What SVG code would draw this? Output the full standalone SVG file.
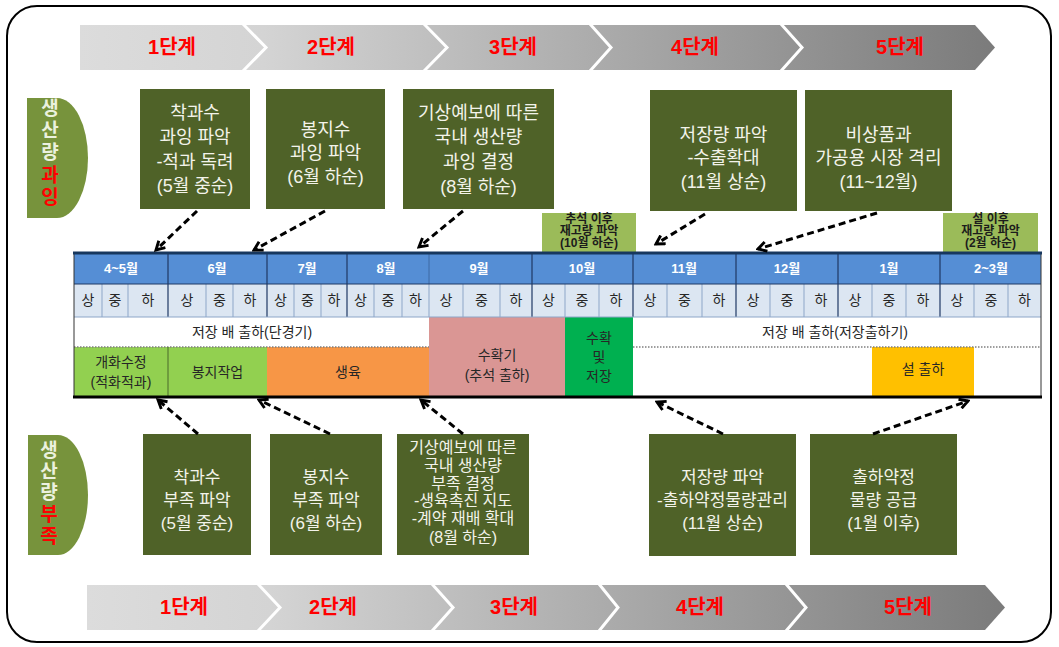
<svg xmlns="http://www.w3.org/2000/svg" width="1059" height="647" viewBox="0 0 1059 647">
<defs>
<linearGradient id="gBanTop" gradientUnits="userSpaceOnUse" x1="80" y1="0" x2="995" y2="0">
<stop offset="0" stop-color="#dcdcdc"/><stop offset="0.2" stop-color="#d4d4d4"/><stop offset="1" stop-color="#7b7b7b"/>
</linearGradient>
<linearGradient id="gBanBot" gradientUnits="userSpaceOnUse" x1="87" y1="0" x2="1005" y2="0">
<stop offset="0" stop-color="#dcdcdc"/><stop offset="0.2" stop-color="#d4d4d4"/><stop offset="1" stop-color="#7b7b7b"/>
</linearGradient>
<marker id="ah" viewBox="0 0 10 10" refX="8" refY="5" markerWidth="12" markerHeight="12" markerUnits="userSpaceOnUse" orient="auto">
<path d="M1,1 L8,5 L1,9" fill="none" stroke="#000" stroke-width="2.4"/>
</marker>
</defs>
<style>
text{font-family:"Liberation Sans","Noto Sans CJK KR",sans-serif;text-anchor:middle;dominant-baseline:central}
.stage{font-size:20px;font-weight:bold;fill:#ff0000}
.sep{fill:none;stroke:#ffffff;stroke-width:3}
.box{fill:#4f6228}
.bt{font-size:18px;fill:#f3f3ea}
.bt2{font-size:17px;fill:#f3f3ea}
.bt3{font-size:16px;fill:#f3f3ea}
.sbox{fill:#9bbb59}
.st{font-size:12px;font-weight:bold;fill:#1c1c1c}
.side{fill:#77933c}
.sidet{font-size:19px;font-weight:bold;fill:#ebf1de}
.red{fill:#ff0000}
.hdr{fill:#558ed5}
.ht{font-size:13px;font-weight:bold;fill:#ffffff}
.sub{fill:#dce6f2}
.subt{font-size:14px;fill:#262626}
.vl{stroke:#8da6c8;stroke-width:1}
.vm{stroke:#1f3864;stroke-width:1.2}
.bandt{font-size:14px;fill:#262626}
.conn{fill:none;stroke:#000;stroke-width:3;stroke-dasharray:7 4;marker-end:url(#ah)}
</style>

<rect x="7" y="6" width="1044" height="636" rx="30" fill="none" stroke="#000" stroke-width="2"/>

<g id="banner-top">
<polygon points="80,25 975,25 995,47.5 975,70 80,70" fill="url(#gBanTop)"/>
<polyline class="sep" points="243,24 266,47.5 243,71"/>
<polyline class="sep" points="424,24 447,47.5 424,71"/>
<polyline class="sep" points="590,24 611,47.5 590,71"/>
<polyline class="sep" points="781,24 802,47.5 781,71"/>
<text class="stage" x="172" y="47">1단계</text>
<text class="stage" x="331" y="47">2단계</text>
<text class="stage" x="513" y="47">3단계</text>
<text class="stage" x="695" y="47">4단계</text>
<text class="stage" x="900" y="47">5단계</text>
</g>

<g id="banner-bottom">
<polygon points="87,585 985,585 1005,607.5 985,630 87,630" fill="url(#gBanBot)"/>
<polyline class="sep" points="258,584 280,607.5 258,631"/>
<polyline class="sep" points="432,584 453,607.5 432,631"/>
<polyline class="sep" points="599,584 618,607.5 599,631"/>
<polyline class="sep" points="786,584 806,607.5 786,631"/>
<text class="stage" x="184" y="607">1단계</text>
<text class="stage" x="333" y="607">2단계</text>
<text class="stage" x="514" y="607">3단계</text>
<text class="stage" x="700" y="607">4단계</text>
<text class="stage" x="908" y="607">5단계</text>
</g>

<g id="label-excess">
<path class="side" d="M27,98 H57 A31,60 0 0 1 57,218 H27 Z"/>
<text class="sidet" x="50" y="108">생</text>
<text class="sidet" x="50" y="130">산</text>
<text class="sidet" x="50" y="152">량</text>
<text class="sidet red" x="50" y="175">과</text>
<text class="sidet red" x="50" y="197">잉</text>
</g>

<g id="label-shortage">
<path class="side" d="M28,435 H58 A30,60 0 0 1 58,555 H28 Z"/>
<text class="sidet" x="49" y="450">생</text>
<text class="sidet" x="49" y="471">산</text>
<text class="sidet" x="49" y="492">량</text>
<text class="sidet red" x="49" y="514">부</text>
<text class="sidet red" x="49" y="536">족</text>
</g>

<g id="top-box-1">
<rect class="box" x="140" y="89" width="110" height="120"/>
<text class="bt" x="195" y="113">착과수</text>
<text class="bt" x="195" y="137">과잉 파악</text>
<text class="bt" x="195" y="162">-적과 독려</text>
<text class="bt" x="195" y="186">(5월 중순)</text>
</g>
<g id="top-box-2">
<rect class="box" x="266" y="89" width="119" height="120"/>
<text class="bt" x="325.5" y="130">봉지수</text>
<text class="bt" x="325.5" y="153">과잉 파악</text>
<text class="bt" x="325.5" y="177">(6월 하순)</text>
</g>
<g id="top-box-3">
<rect class="box" x="403" y="89" width="151" height="120"/>
<text class="bt" x="478.5" y="113">기상예보에 따른</text>
<text class="bt" x="478.5" y="137">국내 생산량</text>
<text class="bt" x="478.5" y="162">과잉 결정</text>
<text class="bt" x="478.5" y="187">(8월 하순)</text>
</g>
<g id="top-box-4">
<rect class="box" x="650" y="90" width="147" height="121"/>
<text class="bt" x="723.5" y="135">저장량 파악</text>
<text class="bt" x="723.5" y="158">-수출확대</text>
<text class="bt" x="723.5" y="182">(11월 상순)</text>
</g>
<g id="top-box-5">
<rect class="box" x="805" y="90" width="147" height="121"/>
<text class="bt" x="878.5" y="135">비상품과</text>
<text class="bt" x="878.5" y="158">가공용 시장 격리</text>
<text class="bt" x="878.5" y="182">(11~12월)</text>
</g>

<g id="small-box-1">
<rect class="sbox" x="542" y="213" width="94" height="40"/>
<text class="st" x="589" y="219">추석 이후</text>
<text class="st" x="589" y="231">재고량 파악</text>
<text class="st" x="589" y="243">(10월 하순)</text>
</g>
<g id="small-box-2">
<rect class="sbox" x="943" y="213" width="95" height="40"/>
<text class="st" x="990.5" y="219">설 이후</text>
<text class="st" x="990.5" y="231">재고량 파악</text>
<text class="st" x="990.5" y="243">(2월 하순)</text>
</g>

<g id="timeline">
<rect class="hdr" x="74" y="253" width="967" height="31"/>
<rect class="sub" x="74" y="284" width="967" height="33"/>
<rect x="74" y="317" width="967" height="80" fill="#ffffff"/>
<rect x="74" y="347" width="94" height="50" fill="#92d050"/>
<rect x="168" y="347" width="99" height="50" fill="#92d050"/>
<rect x="267" y="347" width="162" height="50" fill="#f79646"/>
<rect x="429" y="317" width="136" height="80" fill="#da9694"/>
<rect x="565" y="317" width="68" height="80" fill="#00b050"/>
<rect x="872" y="347" width="102" height="50" fill="#ffc000"/>
<line x1="74" y1="347" x2="429" y2="347" stroke="#7f7f7f" stroke-width="1.5" stroke-dasharray="1.5 1.5"/>
<line x1="633" y1="347" x2="1041" y2="347" stroke="#7f7f7f" stroke-width="1.5" stroke-dasharray="1.5 1.5"/>
<line x1="168" y1="347" x2="168" y2="397" stroke="#4a6a2a" stroke-width="1"/>
<g>
<line class="vl" x1="102" y1="284" x2="102" y2="317"/><line class="vl" x1="128" y1="284" x2="128" y2="317"/>
<line class="vl" x1="206" y1="284" x2="206" y2="317"/><line class="vl" x1="233" y1="284" x2="233" y2="317"/>
<line class="vl" x1="294" y1="284" x2="294" y2="317"/><line class="vl" x1="321" y1="284" x2="321" y2="317"/>
<line class="vl" x1="374" y1="284" x2="374" y2="317"/><line class="vl" x1="402" y1="284" x2="402" y2="317"/>
<line class="vl" x1="429" y1="284" x2="429" y2="317"/>
<line class="vl" x1="463" y1="284" x2="463" y2="317"/><line class="vl" x1="500" y1="284" x2="500" y2="317"/>
<line class="vl" x1="565" y1="284" x2="565" y2="317"/><line class="vl" x1="599" y1="284" x2="599" y2="317"/>
<line class="vl" x1="667" y1="284" x2="667" y2="317"/><line class="vl" x1="702" y1="284" x2="702" y2="317"/>
<line class="vl" x1="770" y1="284" x2="770" y2="317"/><line class="vl" x1="804" y1="284" x2="804" y2="317"/>
<line class="vl" x1="872" y1="284" x2="872" y2="317"/><line class="vl" x1="906" y1="284" x2="906" y2="317"/>
<line class="vl" x1="974" y1="284" x2="974" y2="317"/><line class="vl" x1="1008" y1="284" x2="1008" y2="317"/>
</g>
<g>
<line class="vm" x1="168" y1="253" x2="168" y2="317"/>
<line class="vm" x1="267" y1="253" x2="267" y2="317"/>
<line class="vm" x1="347" y1="253" x2="347" y2="317"/>
<line class="vm" x1="429" y1="253" x2="429" y2="284" stroke-opacity="0.35"/>
<line class="vm" x1="532" y1="253" x2="532" y2="317"/>
<line class="vm" x1="633" y1="253" x2="633" y2="317"/>
<line class="vm" x1="736" y1="253" x2="736" y2="317"/>
<line class="vm" x1="838" y1="253" x2="838" y2="317"/>
<line class="vm" x1="940" y1="253" x2="940" y2="317"/>
</g>
<line x1="74" y1="284" x2="1041" y2="284" stroke="#1f3864" stroke-width="1"/>
<line x1="74" y1="317" x2="1041" y2="317" stroke="#8da6c8" stroke-width="1"/>
<line x1="74" y1="253" x2="74" y2="397" stroke="#333" stroke-width="1"/>
<line x1="1041" y1="253" x2="1041" y2="397" stroke="#333" stroke-width="1"/>
<line x1="73" y1="253" x2="1042" y2="253" stroke="#17375e" stroke-width="3"/>
<line x1="73" y1="397" x2="1042" y2="397" stroke="#000" stroke-width="3"/>

<text class="ht" x="121" y="268">4~5월</text>
<text class="ht" x="217" y="268">6월</text>
<text class="ht" x="307" y="268">7월</text>
<text class="ht" x="386" y="268">8월</text>
<text class="ht" x="479" y="268">9월</text>
<text class="ht" x="582" y="268">10월</text>
<text class="ht" x="684" y="268">11월</text>
<text class="ht" x="787" y="268">12월</text>
<text class="ht" x="889" y="268">1월</text>
<text class="ht" x="991" y="268">2~3월</text>

<g>
<text class="subt" x="88" y="300">상</text><text class="subt" x="115" y="300">중</text><text class="subt" x="148" y="300">하</text>
<text class="subt" x="187" y="300">상</text><text class="subt" x="219.5" y="300">중</text><text class="subt" x="250" y="300">하</text>
<text class="subt" x="280.5" y="300">상</text><text class="subt" x="307.5" y="300">중</text><text class="subt" x="334" y="300">하</text>
<text class="subt" x="360.5" y="300">상</text><text class="subt" x="388" y="300">중</text><text class="subt" x="415.5" y="300">하</text>
<text class="subt" x="446" y="300">상</text><text class="subt" x="481.5" y="300">중</text><text class="subt" x="516" y="300">하</text>
<text class="subt" x="548.5" y="300">상</text><text class="subt" x="582" y="300">중</text><text class="subt" x="616" y="300">하</text>
<text class="subt" x="650" y="300">상</text><text class="subt" x="684.5" y="300">중</text><text class="subt" x="719" y="300">하</text>
<text class="subt" x="753" y="300">상</text><text class="subt" x="787" y="300">중</text><text class="subt" x="821" y="300">하</text>
<text class="subt" x="855" y="300">상</text><text class="subt" x="889" y="300">중</text><text class="subt" x="923" y="300">하</text>
<text class="subt" x="957" y="300">상</text><text class="subt" x="991" y="300">중</text><text class="subt" x="1024.5" y="300">하</text>
</g>

<text class="bandt" x="252" y="332">저장 배 출하(단경기)</text>
<text class="bandt" x="835" y="332">저장 배 출하(저장출하기)</text>
<text class="bandt" x="121" y="362">개화수정</text>
<text class="bandt" x="121" y="382">(적화적과)</text>
<text class="bandt" x="217.5" y="372">봉지작업</text>
<text class="bandt" x="348" y="372">생육</text>
<text class="bandt" x="497" y="355">수확기</text>
<text class="bandt" x="497" y="375">(추석 출하)</text>
<text class="bandt" x="599" y="338">수확</text>
<text class="bandt" x="599" y="357">및</text>
<text class="bandt" x="599" y="376">저장</text>
<text class="bandt" x="923" y="369">설 출하</text>
</g>

<g id="bot-box-1">
<rect class="box" x="143" y="434" width="108" height="121"/>
<text class="bt2" x="197" y="477">착과수</text>
<text class="bt2" x="197" y="500">부족 파악</text>
<text class="bt2" x="197" y="523">(5월 중순)</text>
</g>
<g id="bot-box-2">
<rect class="box" x="270" y="434" width="112" height="121"/>
<text class="bt2" x="326" y="477">봉지수</text>
<text class="bt2" x="326" y="500">부족 파악</text>
<text class="bt2" x="326" y="523">(6월 하순)</text>
</g>
<g id="bot-box-3">
<rect class="box" x="397" y="434" width="132" height="121"/>
<text class="bt3" x="463" y="447">기상예보에 따른</text>
<text class="bt3" x="463" y="465">국내 생산량</text>
<text class="bt3" x="463" y="483">부족 결정</text>
<text class="bt3" x="463" y="500">-생육촉진 지도</text>
<text class="bt3" x="463" y="518">-계약 재배 확대</text>
<text class="bt3" x="463" y="537">(8월 하순)</text>
</g>
<g id="bot-box-4">
<rect class="box" x="649" y="434" width="147" height="122"/>
<text class="bt2" x="722.5" y="477">저장량 파악</text>
<text class="bt2" x="722.5" y="500">-출하약정물량관리</text>
<text class="bt2" x="722.5" y="523">(11월 상순)</text>
</g>
<g id="bot-box-5">
<rect class="box" x="810" y="434" width="147" height="121"/>
<text class="bt2" x="883.5" y="477">출하약정</text>
<text class="bt2" x="883.5" y="500">물량 공급</text>
<text class="bt2" x="883.5" y="523">(1월 이후)</text>
</g>

<g id="connectors">
<line class="conn" x1="197" y1="211" x2="156" y2="250"/>
<line class="conn" x1="325" y1="211" x2="254" y2="250"/>
<line class="conn" x1="463" y1="211" x2="419" y2="247"/>
<line class="conn" x1="705" y1="214" x2="656" y2="244"/>
<line class="conn" x1="877" y1="213" x2="758" y2="249"/>
<line class="conn" x1="198" y1="434" x2="158" y2="400"/>
<line class="conn" x1="330" y1="434" x2="259" y2="400"/>
<line class="conn" x1="463" y1="434" x2="421" y2="400"/>
<line class="conn" x1="723" y1="434" x2="657" y2="402"/>
<line class="conn" x1="873" y1="434" x2="968" y2="401"/>
</g>
</svg>
